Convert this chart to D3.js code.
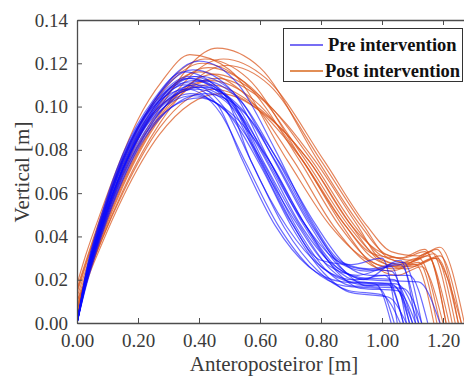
<!DOCTYPE html>
<html>
<head>
<meta charset="utf-8">
<script src="https://cdn.jsdelivr.net/npm/d3@7"></script>
<style>
  html, body { margin: 0; padding: 0; background: #fff; }
  svg { display: block; }
</style>
</head>
<body>
<svg id="chart" width="464" height="376"></svg>
<script>
// legend / axis text
const seriesNames = ['Pre intervention', 'Post intervention'];
const xTicks = [0, 0.2, 0.4, 0.6, 0.8, 1.0, 1.2];
const yTicks = [0, 0.02, 0.04, 0.06, 0.08, 0.10, 0.12, 0.14];

// pre intervention trajectories [anteroposterior, vertical] (m)
const preCurves = [
  [[0,0],[0.03,0.020],[0.08,0.045],[0.15,0.072],[0.25,0.098],[0.38,0.112],[0.51,0.102],[0.61,0.075],[0.73,0.045],[0.83,0.025],[0.92,0.018],[1.04,0.017],[1.09,0]],
  [[0,0],[0.03,0.024],[0.08,0.050],[0.15,0.078],[0.25,0.103],[0.35,0.116],[0.48,0.106],[0.57,0.075],[0.69,0.044],[0.80,0.026],[0.90,0.019],[1.02,0.018],[1.07,0]],
  [[0,0],[0.03,0.018],[0.08,0.041],[0.15,0.067],[0.25,0.092],[0.40,0.104],[0.52,0.095],[0.63,0.075],[0.75,0.045],[0.85,0.024],[0.93,0.016],[1.05,0.015],[1.11,0]],
  [[0,0],[0.03,0.021],[0.08,0.046],[0.15,0.074],[0.25,0.100],[0.37,0.113],[0.50,0.103],[0.60,0.075],[0.72,0.046],[0.82,0.027],[0.92,0.022],[1.03,0.026],[1.08,0]],
  [[0,0],[0.03,0.019],[0.08,0.043],[0.15,0.070],[0.25,0.096],[0.41,0.109],[0.54,0.099],[0.65,0.075],[0.77,0.045],[0.87,0.027],[0.95,0.024],[1.06,0.027],[1.12,0]],
  [[0,0],[0.03,0.022],[0.08,0.048],[0.15,0.076],[0.25,0.101],[0.36,0.111],[0.48,0.100],[0.57,0.075],[0.68,0.044],[0.79,0.024],[0.89,0.015],[1.00,0.013],[1.06,0]],
  [[0,0],[0.03,0.020],[0.08,0.044],[0.15,0.071],[0.25,0.097],[0.39,0.108],[0.52,0.098],[0.62,0.075],[0.73,0.046],[0.83,0.028],[0.93,0.021],[1.04,0.020],[1.10,0]],
  [[0,0],[0.03,0.023],[0.08,0.049],[0.15,0.077],[0.25,0.102],[0.38,0.117],[0.51,0.107],[0.62,0.078],[0.74,0.046],[0.84,0.026],[0.93,0.019],[1.05,0.018],[1.12,0]],
  [[0,0],[0.03,0.017],[0.08,0.040],[0.15,0.066],[0.25,0.091],[0.42,0.106],[0.55,0.097],[0.66,0.075],[0.78,0.046],[0.88,0.027],[0.96,0.022],[1.09,0.022],[1.15,0]],
  [[0,0],[0.03,0.021],[0.08,0.047],[0.15,0.075],[0.25,0.100],[0.36,0.108],[0.47,0.097],[0.55,0.075],[0.66,0.045],[0.77,0.025],[0.88,0.017],[0.99,0.016],[1.04,0]],
  [[0,0],[0.03,0.020],[0.08,0.046],[0.15,0.073],[0.25,0.099],[0.40,0.114],[0.53,0.104],[0.64,0.077],[0.76,0.046],[0.86,0.026],[0.94,0.020],[1.06,0.029],[1.11,0]],
  [[0,0],[0.03,0.019],[0.08,0.042],[0.15,0.069],[0.25,0.094],[0.37,0.106],[0.50,0.096],[0.60,0.073],[0.71,0.043],[0.81,0.023],[0.90,0.014],[1.02,0.012],[1.08,0]],
  [[0,0],[0.03,0.022],[0.08,0.047],[0.15,0.076],[0.25,0.102],[0.40,0.121],[0.53,0.110],[0.65,0.080],[0.77,0.047],[0.87,0.028],[0.96,0.025],[1.07,0.028],[1.13,0]],
  [[0,0],[0.03,0.021],[0.08,0.045],[0.15,0.072],[0.25,0.098],[0.35,0.110],[0.46,0.101],[0.54,0.076],[0.65,0.045],[0.76,0.026],[0.87,0.019],[0.98,0.018],[1.03,0]],
  [[0,0],[0.03,0.020],[0.08,0.044],[0.15,0.071],[0.25,0.097],[0.39,0.110],[0.52,0.101],[0.62,0.076],[0.74,0.047],[0.84,0.030],[0.93,0.025],[1.03,0.024],[1.09,0]],
  [[0,0],[0.03,0.018],[0.08,0.042],[0.15,0.068],[0.25,0.093],[0.41,0.112],[0.54,0.102],[0.65,0.077],[0.77,0.046],[0.87,0.025],[0.95,0.017],[1.07,0.016],[1.13,0]],
  [[0,0],[0.03,0.023],[0.08,0.048],[0.15,0.075],[0.25,0.101],[0.37,0.114],[0.50,0.104],[0.60,0.076],[0.71,0.045],[0.81,0.025],[0.91,0.020],[1.01,0.022],[1.07,0]],
  [[0,0],[0.03,0.019],[0.08,0.043],[0.15,0.070],[0.25,0.095],[0.38,0.105],[0.51,0.095],[0.61,0.074],[0.72,0.044],[0.82,0.024],[0.91,0.017],[1.03,0.018],[1.10,0]],
  [[0,0],[0.03,0.022],[0.08,0.046],[0.15,0.074],[0.25,0.099],[0.36,0.113],[0.49,0.103],[0.59,0.077],[0.70,0.047],[0.80,0.029],[0.90,0.027],[1.00,0.030],[1.05,0]],
  [[0,0],[0.03,0.020],[0.08,0.044],[0.15,0.071],[0.25,0.096],[0.39,0.109],[0.52,0.099],[0.63,0.075],[0.75,0.045],[0.85,0.026],[0.95,0.020],[1.12,0.019],[1.19,0]]
];

// post intervention trajectories
const postCurves = [
  [[0,0.018],[0.03,0.032],[0.08,0.052],[0.15,0.078],[0.20,0.094],[0.28,0.112],[0.37,0.124],[0.50,0.117],[0.69,0.075],[0.83,0.045],[0.93,0.031],[1.03,0.026],[1.12,0.030],[1.19,0]],
  [[0,0.010],[0.03,0.020],[0.08,0.038],[0.15,0.060],[0.27,0.090],[0.45,0.108],[0.59,0.099],[0.74,0.075],[0.88,0.045],[0.97,0.030],[1.06,0.026],[1.16,0.033],[1.23,0]],
  [[0,0.005],[0.03,0.022],[0.08,0.043],[0.15,0.068],[0.27,0.099],[0.46,0.127],[0.60,0.118],[0.79,0.075],[0.93,0.045],[1.01,0.032],[1.10,0.029],[1.18,0.034],[1.25,0]],
  [[0,0.012],[0.03,0.025],[0.08,0.046],[0.15,0.071],[0.27,0.101],[0.43,0.118],[0.57,0.109],[0.75,0.075],[0.89,0.045],[0.98,0.031],[1.07,0.027],[1.15,0.031],[1.21,0]],
  [[0,0.002],[0.03,0.018],[0.08,0.036],[0.15,0.058],[0.27,0.087],[0.47,0.106],[0.61,0.097],[0.76,0.075],[0.90,0.045],[0.99,0.029],[1.08,0.025],[1.17,0.030],[1.26,0]],
  [[0,0.015],[0.03,0.028],[0.08,0.049],[0.15,0.075],[0.27,0.105],[0.41,0.120],[0.55,0.111],[0.73,0.075],[0.86,0.045],[0.95,0.030],[1.04,0.025],[1.12,0.028],[1.18,0]],
  [[0,0.008],[0.03,0.021],[0.08,0.041],[0.15,0.065],[0.27,0.096],[0.48,0.122],[0.62,0.113],[0.81,0.075],[0.95,0.045],[1.03,0.033],[1.12,0.031],[1.19,0.035],[1.27,0]],
  [[0,0.004],[0.03,0.019],[0.08,0.039],[0.15,0.063],[0.27,0.094],[0.44,0.112],[0.58,0.103],[0.74,0.075],[0.87,0.045],[0.96,0.028],[1.05,0.022],[1.13,0.026],[1.20,0]],
  [[0,0.014],[0.03,0.027],[0.08,0.048],[0.15,0.073],[0.27,0.103],[0.40,0.116],[0.54,0.107],[0.71,0.075],[0.84,0.045],[0.94,0.029],[1.03,0.024],[1.11,0.027],[1.17,0]],
  [[0,0.006],[0.03,0.020],[0.08,0.040],[0.15,0.064],[0.27,0.095],[0.45,0.115],[0.59,0.106],[0.77,0.075],[0.91,0.045],[1.00,0.031],[1.09,0.028],[1.17,0.032],[1.24,0]],
  [[0,0.010],[0.03,0.023],[0.08,0.044],[0.15,0.069],[0.27,0.100],[0.44,0.110],[0.58,0.101],[0.76,0.075],[0.90,0.045],[0.98,0.034],[1.07,0.030],[1.14,0.033],[1.22,0]],
  [[0,0.003],[0.03,0.019],[0.08,0.038],[0.15,0.061],[0.27,0.092],[0.49,0.119],[0.63,0.110],[0.80,0.075],[0.94,0.045],[1.02,0.030],[1.11,0.027],[1.19,0.031],[1.26,0]],
  [[0,0.016],[0.03,0.029],[0.08,0.050],[0.15,0.076],[0.27,0.106],[0.42,0.122],[0.56,0.113],[0.74,0.075],[0.88,0.045],[0.97,0.032],[1.06,0.030],[1.14,0.034],[1.21,0]],
  [[0,0.007],[0.03,0.021],[0.08,0.042],[0.15,0.066],[0.27,0.097],[0.46,0.113],[0.60,0.104],[0.78,0.075],[0.92,0.045],[1.00,0.029],[1.10,0.026],[1.18,0.030],[1.25,0]]
];

const svg = d3.select('#chart');

/**
 * SIZE DEFINITIONS
 */
const plotLeft = 77;
const plotTop = 20;
const plotBottom = 323;
const plotRight = 473.5;
const axisColor = '#4d4d4d';
const textColor = '#3a3a3a';
const serif = '"Liberation Serif", "Times New Roman", serif';

/**
 * SCALES
 */
const xScale = d3.scaleLinear().domain([0, 1.3]).range([plotLeft, plotRight]);
const yScale = d3.scaleLinear().domain([0, 0.14]).range([plotBottom, plotTop]);

const line = d3
  .line()
  .curve(d3.curveMonotoneX)
  .x((d) => xScale(d[0]))
  .y((d) => yScale(d[1]));

/**
 * CURVES
 */
svg.append('defs').append('clipPath').attr('id', 'plot-clip')
  .append('rect')
  .attr('x', plotLeft).attr('y', plotTop)
  .attr('width', plotRight - plotLeft).attr('height', plotBottom - plotTop);

const plot = svg.append('g').attr('clip-path', 'url(#plot-clip)');

plot.selectAll('path.post')
  .data(postCurves)
  .join('path')
  .attr('class', 'post')
  .attr('d', line)
  .attr('fill', 'none')
  .attr('stroke', '#d95319')
  .attr('stroke-opacity', 0.72)
  .attr('stroke-width', 1.15);

plot.selectAll('path.pre')
  .data(preCurves)
  .join('path')
  .attr('class', 'pre')
  .attr('d', line)
  .attr('fill', 'none')
  .attr('stroke', '#0a0aff')
  .attr('stroke-opacity', 0.6)
  .attr('stroke-width', 1.2);

/**
 * AXES (box with inward ticks)
 */
const fmt = d3.format('.2f');

const gX = svg.append('g')
  .attr('transform', `translate(0,${plotBottom})`)
  .call(d3.axisBottom(xScale).tickValues(xTicks).tickFormat(fmt).tickSizeInner(-5).tickSizeOuter(0).tickPadding(11));

const gXTop = svg.append('g')
  .attr('transform', `translate(0,${plotTop})`)
  .call(d3.axisTop(xScale).tickValues(xTicks).tickFormat('').tickSizeInner(-5).tickSizeOuter(0));

const gY = svg.append('g')
  .attr('transform', `translate(${plotLeft},0)`)
  .call(d3.axisLeft(yScale).tickValues(yTicks).tickFormat(fmt).tickSizeInner(-5).tickSizeOuter(0).tickPadding(9));

[gX, gXTop, gY].forEach((g) => {
  g.select('.domain').attr('stroke', axisColor).attr('stroke-width', 1.3);
  g.selectAll('.tick line').attr('stroke', axisColor).attr('stroke-width', 1);
  g.selectAll('.tick text')
    .attr('fill', textColor)
    .attr('font-family', serif)
    .attr('font-size', 19);
});

/**
 * AXIS TITLES
 */
svg.append('text')
  .attr('x', 274)
  .attr('y', 371)
  .attr('text-anchor', 'middle')
  .attr('fill', textColor)
  .attr('font-family', serif)
  .attr('font-size', 21)
  .text('Anteroposteiror [m]');

svg.append('text')
  .attr('transform', 'translate(29,172) rotate(-90)')
  .attr('text-anchor', 'middle')
  .attr('fill', textColor)
  .attr('font-family', serif)
  .attr('font-size', 21)
  .text('Vertical [m]');

/**
 * LEGEND
 */
const legend = svg.append('g');
legend.append('rect')
  .attr('x', 283.5).attr('y', 28.5)
  .attr('width', 179).attr('height', 53)
  .attr('fill', '#fff')
  .attr('stroke', '#333')
  .attr('stroke-width', 1);

const legendColors = ['#4a3cf0', '#d8691e'];
const legendRows = legend.selectAll('g.row')
  .data(seriesNames)
  .join('g')
  .attr('class', 'row')
  .attr('transform', (d, i) => `translate(0,${45 + i * 26})`);

legendRows.append('line')
  .attr('x1', 290).attr('x2', 323)
  .attr('stroke', (d, i) => legendColors[i])
  .attr('stroke-width', 1.6);

legendRows.append('text')
  .attr('x', (d, i) => (i === 0 ? 328 : 325))
  .attr('y', 6)
  .attr('fill', '#111')
  .attr('font-family', serif)
  .attr('font-weight', 'bold')
  .attr('font-size', 18.5)
  .text((d) => d);
</script>
</body>
</html>
